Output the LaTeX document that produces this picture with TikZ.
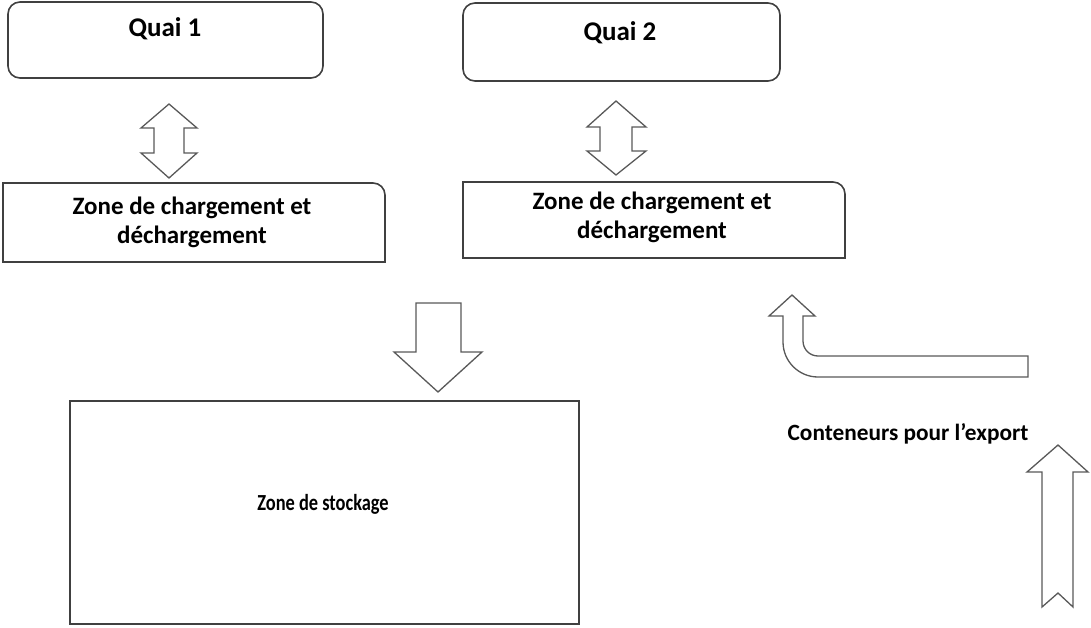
\documentclass[tikz,border=0pt]{standalone}
\usepackage{fontspec}
\usepackage{graphicx}
\setmainfont{Carlito}
\begin{document}
\begin{tikzpicture}[x=1pt,y=-1pt,
  boxline/.style={draw=black!75,line width=1.6pt},
  blockarrow/.style={draw=black!65,line width=1.3pt,fill=white,line join=miter},
  lbl/.style={inner sep=0pt,align=center,font=\bfseries\fontsize{25}{29}\selectfont},
  quailbl/.style={inner sep=0pt,font=\bfseries\fontsize{27}{29}\selectfont},
  storelbl/.style={inner sep=0pt,font=\bfseries\fontsize{23}{26}\selectfont},
  exportlbl/.style={inner sep=0pt,font=\bfseries\fontsize{23.3}{26}\selectfont}]
\useasboundingbox (0,0) rectangle (1091,628);

% quays
\draw[boxline,rounded corners=12pt] (8,2) rectangle (323,78);
\node[quailbl] (q1) at (165,29) {Quai 1};
\draw[boxline,rounded corners=12pt] (463,3) rectangle (780,81);
\node[quailbl] (q2) at (620,33) {Quai 2};

% loading / unloading areas (only the top right corner is rounded)
\draw[boxline] (3,262) -- (3,183) [rounded corners=12pt] -- (385,183) [sharp corners] -- (385,262) -- cycle;
\node[lbl] (z1) at (192,222.5) {Zone de chargement et\\déchargement};
\draw[boxline] (463,258) -- (463,182) [rounded corners=12pt] -- (845,182) [sharp corners] -- (845,258) -- cycle;
\node[lbl] (z2) at (652,217.5) {Zone de chargement et\\déchargement};

% storage area (label set in a narrowed face)
\draw[boxline] (70,401) rectangle (579,624);
\node[storelbl] (st) at (323,504) {\scalebox{0.8}[1]{Zone de stockage}};

% export label
\node[exportlbl] (ex) at (908,434) {Conteneurs pour l’export};

% two-way arrows between quays and loading areas
\draw[blockarrow] (169,104) -- (197,128) -- (184,128) -- (184,153) -- (197,153)
  -- (169,178) -- (141,153) -- (154,153) -- (154,128) -- (141,128) -- cycle;
\draw[blockarrow] (616,101) -- (646,127) -- (632,127) -- (632,151) -- (646,151)
  -- (616,175) -- (587,151) -- (600,151) -- (600,127) -- (587,127) -- cycle;

% arrow down into storage
\draw[blockarrow] (416,303) -- (461,303) -- (461,352) -- (482,352) -- (438,392)
  -- (394,352) -- (416,352) -- cycle;

% bent arrow towards loading area 2
\draw[blockarrow] (792,295) -- (815,316) -- (803,316) -- (803,341)
  .. controls (803,349.3) and (809.7,356) .. (818,356) -- (1028,356) -- (1028,377)
  -- (818,377) .. controls (798.7,377) and (783,361.3) .. (783,342)
  -- (783,316) -- (769,316) -- cycle;

% notched up arrow for export containers
\draw[blockarrow] (1058,445) -- (1088,472) -- (1073,472) -- (1073,607) -- (1058,593)
  -- (1042,607) -- (1042,472) -- (1027,472) -- cycle;
\end{tikzpicture}
\end{document}
